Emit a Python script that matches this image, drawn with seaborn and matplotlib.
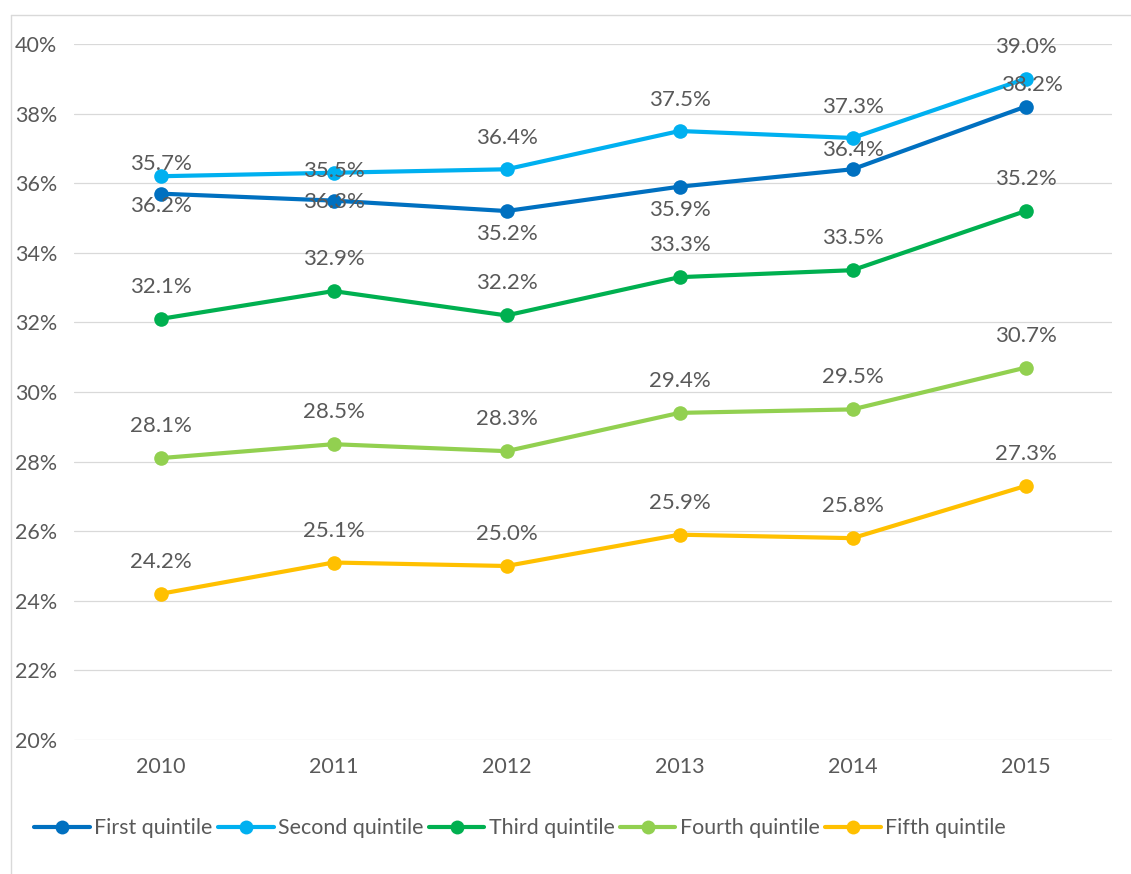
import matplotlib
matplotlib.use("Agg")
import matplotlib.pyplot as plt
import seaborn as sns
import pandas as pd
import numpy as np
from matplotlib.lines import Line2D

years = ["2010", "2011", "2012", "2013", "2014", "2015"]
series_names = ["First quintile", "Second quintile", "Third quintile",
                "Fourth quintile", "Fifth quintile"]
first = [35.7, 35.5, 35.2, 35.9, 36.4, 38.2]
second = [36.2, 36.3, 36.4, 37.5, 37.3, 39.0]
third = [32.1, 32.9, 32.2, 33.3, 33.5, 35.2]
fourth = [28.1, 28.5, 28.3, 29.4, 29.5, 30.7]
fifth = [24.2, 25.1, 25.0, 25.9, 25.8, 27.3]
yticks = [20, 22, 24, 26, 28, 30, 32, 34, 36, 38, 40]

colors = ["#0070C0", "#00B0F0", "#00B050", "#92D050", "#FFC000"]
# label offsets in pixels (dx, dy) — layout only
label_offsets = {
    "First quintile": [(0, 30), (0, 30), (0, -23), (0, -23), (0, 19), (6, 22)],
    "Second quintile": [(0, -30), (0, -29), (0, 31), (0, 31), (0, 31), (0, 32)],
}
default_off = (0, 32)

all_vals = [first, second, third, fourth, fifth]
rows = []
for name, vals in zip(series_names, all_vals):
    for i, (yr, v) in enumerate(zip(years, vals)):
        rows.append({"pos": i, "year": yr, "value": v, "series": name})
df = pd.DataFrame(rows)

sns.set_style("white")
plt.rcParams["font.family"] = ["Lato", "DejaVu Sans"]
text_color = "#595959"

fig = plt.figure(figsize=(11.31, 8.74), dpi=100)
ax = fig.add_axes([74 / 1131, 1 - 740 / 874, (1112 - 74) / 1131, (740 - 44) / 874])

sns.lineplot(data=df, x="pos", y="value", hue="series", hue_order=series_names,
             palette=colors, marker="o", markersize=10.5, markeredgewidth=0,
             linewidth=3, ax=ax, legend=False, sort=False)

ax.set_xlim(-0.5, 5.5)
ax.set_ylim(20, 40)
ax.set_yticks(yticks)
ax.set_yticklabels([f"{t}%" for t in yticks])
ax.set_xticks(range(len(years)))
ax.set_xticklabels(years)
ax.set_xlabel("")
ax.set_ylabel("")
ax.grid(axis="y", color="#D9D9D9", linewidth=0.9)
ax.set_axisbelow(True)
for s in ax.spines.values():
    s.set_visible(False)
ax.tick_params(axis="y", length=0, pad=12, labelsize=15.5, labelcolor=text_color)
ax.tick_params(axis="x", length=0, pad=12, labelsize=15.5, labelcolor=text_color)

for name, vals in zip(series_names, all_vals):
    offs = label_offsets.get(name, [default_off] * len(vals))
    for i, v in enumerate(vals):
        dx, dy = offs[i]
        ax.annotate(f"{v:.1f}%", (i, v), xytext=(dx, dy), textcoords="offset pixels",
                    ha="center", va="center", fontsize=16, color=text_color,
                    zorder=10)

handles = [Line2D([0], [0], color=c, lw=3, marker="o", markersize=10,
                  markeredgewidth=0) for c in colors]
fig.legend(handles, series_names, loc="center", bbox_to_anchor=(520 / 1131, 1 - 828 / 874),
           ncol=5, frameon=False, fontsize=15.4, handlelength=2.6, columnspacing=0.25,
           handletextpad=0.2, labelcolor=text_color)

fig.add_artist(Line2D([11 / 1131, 11 / 1131], [0, 1 - 15 / 874], color="#D9D9D9", lw=1,
                      transform=fig.transFigure))
fig.add_artist(Line2D([11 / 1131, 1], [1 - 15 / 874, 1 - 15 / 874], color="#D9D9D9", lw=1,
                      transform=fig.transFigure))

fig.savefig("out.png", dpi=100, facecolor="white")
